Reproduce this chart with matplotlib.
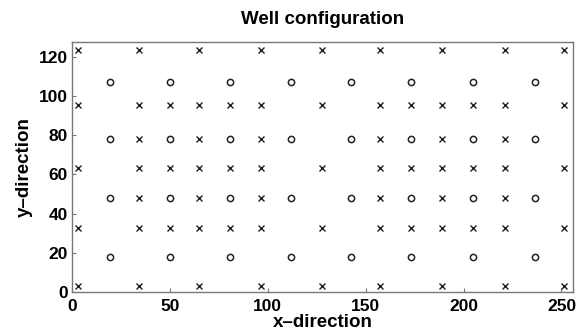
import numpy as np
import matplotlib
matplotlib.use('Agg')
import matplotlib.pyplot as plt

plt.rcParams['font.family'] = ['Liberation Sans', 'DejaVu Sans']

# grid positions of the well columns (x) and rows (y)
col_x = [3, 19.5, 34.5, 50, 65, 81, 96.5, 112, 127.5, 142.5, 157.5, 173, 189, 205, 221, 236.5, 251.5]
row_y = [3, 17.5, 32.5, 48, 63.5, 78, 95.5, 107.5, 123.5]

# which columns hold an 'x' well on each row
x_cols_edge = [0, 2, 4, 6, 8, 10, 12, 14, 16]          # rows 0 and 8
x_cols_full = [0, 2, 3, 4, 5, 6, 8, 10, 11, 12, 13, 14, 16]  # rows 2, 4, 6
x_cols_mixed = [2, 4, 6, 10, 12, 14]                   # rows 3, 5
x_rows_edge = [0, 8]
x_rows_full = [2, 4, 6]
x_rows_mixed = [3, 5]

# 'o' wells
o_cols = [1, 3, 5, 7, 9, 11, 13, 15]
o_rows = [1, 3, 5, 7]

xs, ys = [], []
for rows, cols in [(x_rows_edge, x_cols_edge), (x_rows_full, x_cols_full), (x_rows_mixed, x_cols_mixed)]:
    for r in rows:
        for c in cols:
            xs.append(col_x[c])
            ys.append(row_y[r])

ox, oy = [], []
for r in o_rows:
    for c in o_cols:
        ox.append(col_x[c])
        oy.append(row_y[r])

fig = plt.figure(figsize=(5.79, 3.36), dpi=100)
ax = fig.add_axes([0.124, 0.132, 0.866, 0.744])

ax.plot(xs, ys, 'x', color='#222222', markersize=4.3, markeredgewidth=1.0)
ax.plot(ox, oy, 'o', color='#222222', markerfacecolor='none', markersize=4.5, markeredgewidth=1.1)

ax.set_xlim(0, 256)
ax.set_ylim(0, 128)
ax.set_xticks(np.arange(0, 251, 50))
ax.set_yticks(np.arange(0, 121, 20))
ax.tick_params(direction='in', length=3, width=0.8, color='#777777', labelsize=12.5)
ax.tick_params(axis='x', pad=5)
ax.tick_params(axis='y', pad=3)
for lab in ax.get_xticklabels() + ax.get_yticklabels():
    lab.set_fontweight('bold')
for s in ax.spines.values():
    s.set_color('#777777')
    s.set_linewidth(1.0)

ax.set_title('Well configuration', fontsize=13.5, fontweight='bold', pad=13)
ax.set_xlabel('x\u2013direction', fontsize=13.5, fontweight='bold', labelpad=0)
ax.set_ylabel('y\u2013direction', fontsize=13.5, fontweight='bold', labelpad=4)

plt.savefig('out.png', dpi=100)
